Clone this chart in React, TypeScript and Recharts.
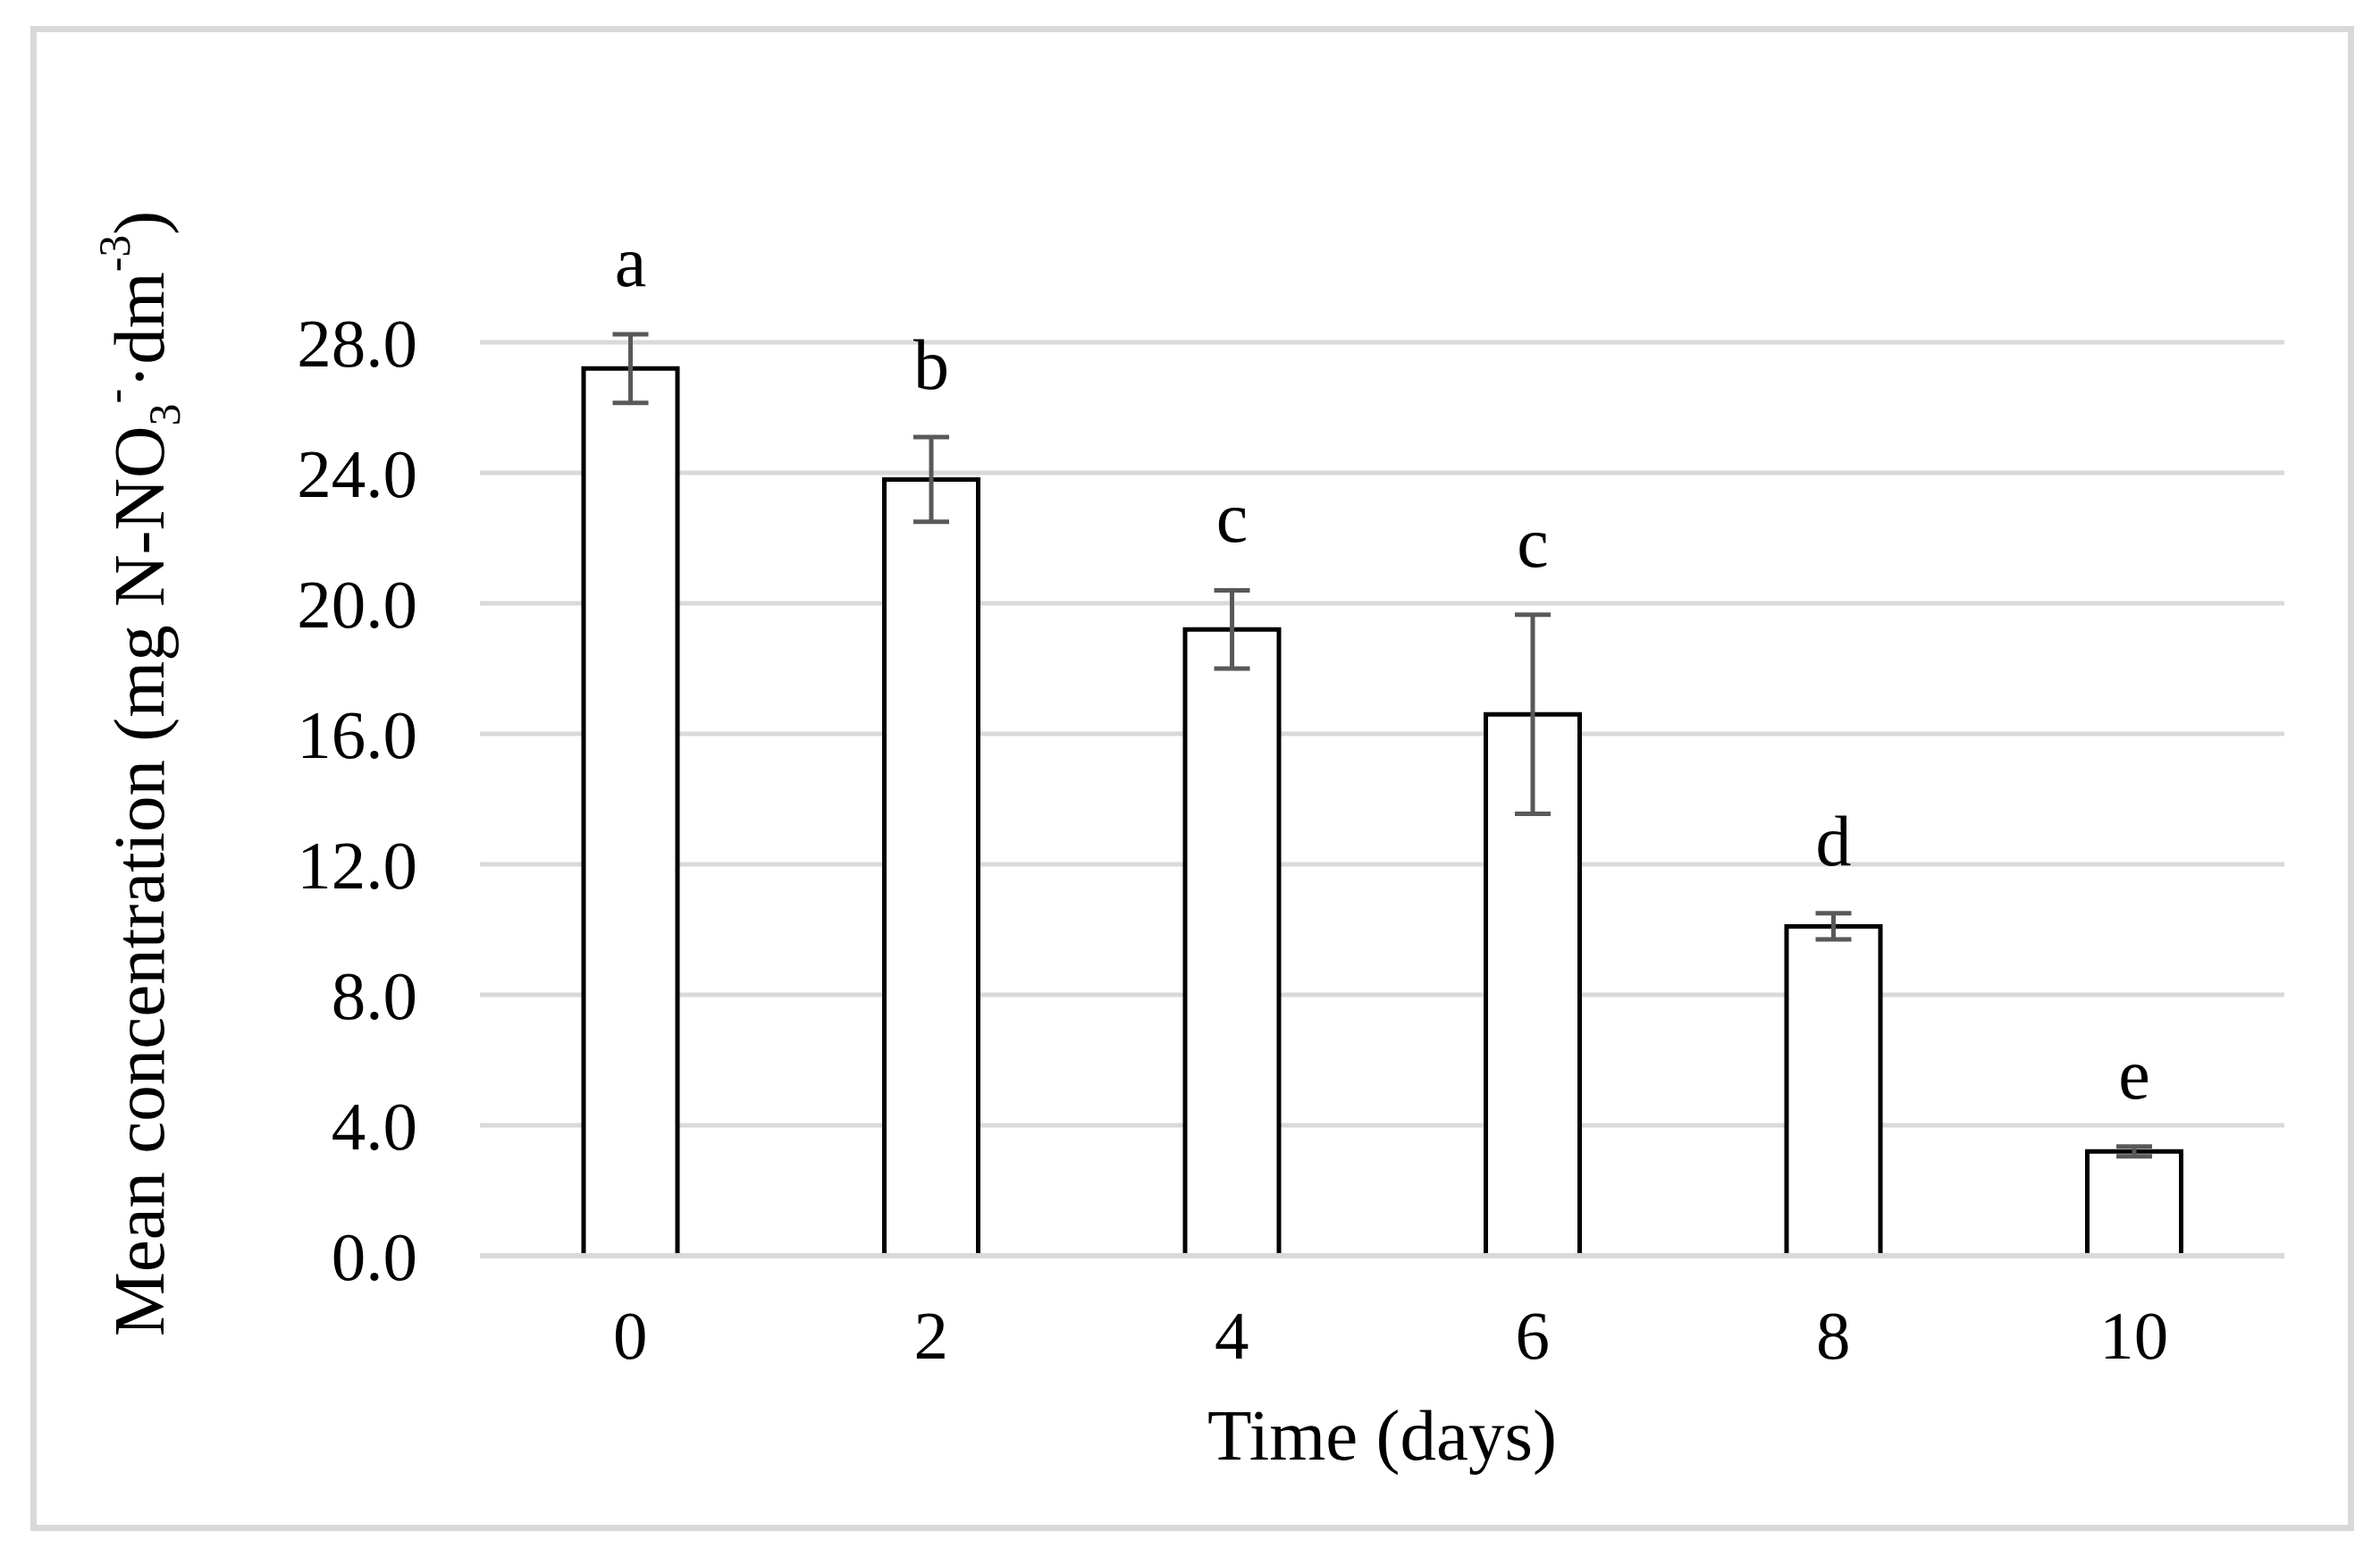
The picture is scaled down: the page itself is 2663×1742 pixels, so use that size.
import React from 'react';
import { BarChart, Bar, XAxis, YAxis, CartesianGrid, ErrorBar, LabelList, ReferenceLine, Label } from 'recharts';

// values
const days = ['0', '2', '4', '6', '8', '10'];
const means = [27.2, 23.8, 19.2, 16.6, 10.1, 3.2];
const errors = [1.05, 1.3, 1.2, 3.05, 0.4, 0.15];
const letters = ['a', 'b', 'c', 'c', 'd', 'e'];
const yTicks = [0, 4, 8, 12, 16, 20, 24, 28];

const data = days.map((d, i) => ({ day: d, mean: means[i], err: errors[i], letter: letters[i] }));

const FONT = '"Liberation Serif", "Times New Roman", serif';

// significance letter sits above the top of the error bar
const LetterLabel = (props: any) => {
  const { x, y, width, height, index, value } = props;
  const pxPerUnit = height / means[index];
  const top = y - errors[index] * pxPerUnit;
  return (
    <text x={x + width / 2} y={top - 54} textAnchor="middle" fontFamily={FONT} fontSize={80} fill="#000">
      {value}
    </text>
  );
};

const YTitle = (props: any) => {
  const { viewBox } = props;
  const cx = viewBox.x - 181;
  const cy = viewBox.y + viewBox.height / 2 - 24;
  return (
    <text
      transform={`translate(${cx} ${cy}) rotate(-90)`}
      textAnchor="middle"
      dominantBaseline="central"
      fontFamily={FONT}
      fontSize={81}
      fill="#000"
    >
      Mean concentration (mg N-NO
      <tspan baselineShift="sub" fontSize={50}>3</tspan>
      <tspan baselineShift="super" fontSize={50}>-</tspan>
      ·dm
      <tspan baselineShift="super" fontSize={50}>-3</tspan>
      )
    </text>
  );
};

export default function App() {
  return (
    <div style={{ position: 'absolute', left: 0, top: 0, width: 2663, height: 1742, background: '#fff' }}>
      <div
        style={{
          position: 'absolute',
          left: 34,
          top: 29,
          width: 2600,
          height: 1684,
          border: '7px solid #D9D9D9',
          boxSizing: 'border-box',
        }}
      />
      <div style={{ position: 'absolute', left: 0, top: 0 }}>
        {/* domain runs to the top of the first error bar, so the plot starts a little above 28.0 */}
        <BarChart width={2663} height={1742} data={data} margin={{ top: 374, right: 107, left: 337, bottom: 187 }}>
          <CartesianGrid vertical={false} horizontalValues={yTicks} stroke="#D9D9D9" strokeWidth={5} />
          <XAxis
            dataKey="day"
            height={150}
            axisLine={false}
            tickLine={false}
            tickSize={0}
            tickMargin={60}
            tick={{ fontFamily: FONT, fontSize: 77, fill: '#000' }}
          >
            <Label value="Time (days)" position="bottom" offset={20} fontFamily={FONT} fontSize={81} fill="#000" />
          </XAxis>
          <YAxis
            width={200}
            domain={[0, 'dataMax']}
            ticks={yTicks}
            interval={0}
            axisLine={false}
            tickLine={false}
            tickSize={0}
            tickMargin={70}
            tickFormatter={(v: number) => v.toFixed(1)}
            tick={{ fontFamily: FONT, fontSize: 77, fill: '#000' }}
          >
            <Label content={YTitle} />
          </YAxis>
          <Bar dataKey="mean" fill="#fff" stroke="#000" strokeWidth={5} barSize={105} isAnimationActive={false}>
            <ErrorBar dataKey="err" width={20} stroke="#595959" strokeWidth={5} />
            <LabelList dataKey="letter" content={LetterLabel} />
          </Bar>
          <ReferenceLine y={0} stroke="#D9D9D9" strokeWidth={6} />
        </BarChart>
      </div>
    </div>
  );
}
